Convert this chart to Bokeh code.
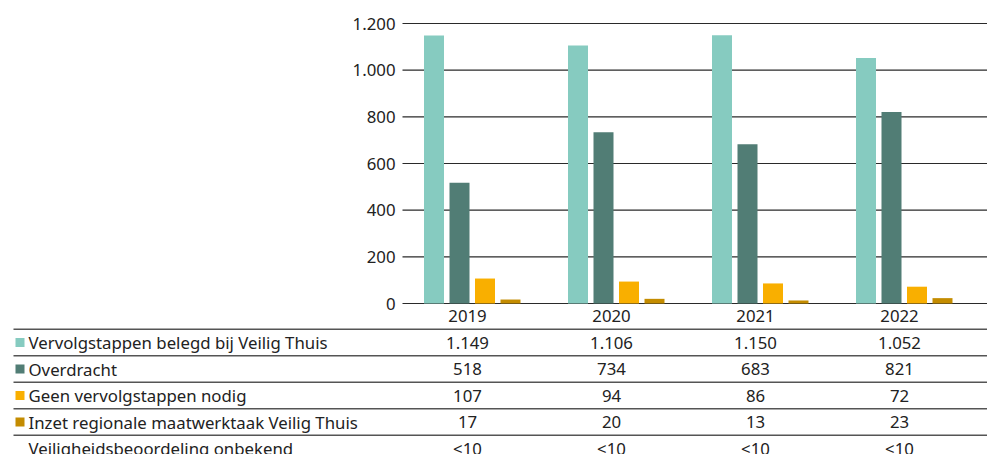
from bokeh.plotting import figure
from bokeh.models import Range1d, ColumnDataSource
from bokeh.embed import file_html
from bokeh.resources import INLINE
from bokeh.core.properties import value

# ---------------- data ----------------
years = ["2019", "2020", "2021", "2022"]
series_names = [
    "Vervolgstappen belegd bij Veilig Thuis",
    "Overdracht",
    "Geen vervolgstappen nodig",
    "Inzet regionale maatwerktaak Veilig Thuis",
]
vervolgstappen = [1149, 1106, 1150, 1052]
overdracht = [518, 734, 683, 821]
geen_vervolgstappen = [107, 94, 86, 72]
inzet_maatwerk = [17, 20, 13, 23]
onbekend_name = "Veiligheidsbeoordeling onbekend"
onbekend = ["<10", "<10", "<10", "<10"]
series_values = [vervolgstappen, overdracht, geen_vervolgstappen, inzet_maatwerk]
colors = ["#86CBC0", "#517D75", "#F9AF00", "#C48C00"]
y_ticks = [0, 200, 400, 600, 800, 1000, 1200]


def nl(v):
    return f"{v:,}".replace(",", ".")


FONT = "Noto Sans"
FS = "16.8px"
TXT = "#222222"

# ---------------- layout constants (pixels) ----------------
W, H = 987, 454
PX = 144.0             # pixels per year group
G0 = 467               # centre of first year group
GRID_LEFT = 402        # where grid lines start
TICK_RIGHT = 395       # right edge of tick labels
Y0_PX, Y1200_PX = 303, 23
VAL_PER_PX = 1200 / (Y0_PX - Y1200_PX)
ROW = 26.5             # table row pitch
ROW0_PX = 315.5        # header row centre
BAR_W = 20 / PX
BAR_STEP = 25.5 / PX
BAR_FIRST = -33.5 / PX

x_start = -G0 / PX
x_end = x_start + W / PX


def xp(px):
    return x_start + px / PX


y_top = Y0_PX * VAL_PER_PX
y_bot = y_top - H * VAL_PER_PX
t_top = -ROW0_PX / ROW
t_bot = t_top + H / ROW

p = figure(width=W, height=H, output_backend="svg", toolbar_location=None,
           x_range=Range1d(x_start, x_end), y_range=Range1d(y_bot, y_top),
           x_axis_location=None, y_axis_location=None,
           min_border_left=0, min_border_right=0, min_border_top=0, min_border_bottom=0)
p.extra_y_ranges = {"table": Range1d(t_bot, t_top)}
p.outline_line_color = None
p.grid.visible = False

# ---------------- value axis (grid + tick labels) ----------------
p.segment(x0=[xp(GRID_LEFT)] * len(y_ticks), x1=[x_end] * len(y_ticks),
          y0=y_ticks, y1=y_ticks, line_color="#2a2a2a", line_width=1.2)
p.text(x=[xp(TICK_RIGHT)] * len(y_ticks), y=y_ticks, text=[nl(t) for t in y_ticks],
       text_font=value(FONT), text_font_size=FS, text_color=TXT,
       text_align="right", text_baseline="middle")

# ---------------- bars ----------------
for j, (vals, col) in enumerate(zip(series_values, colors)):
    src = ColumnDataSource(dict(
        x=[i + BAR_FIRST + j * BAR_STEP for i in range(len(years))],
        top=vals,
    ))
    p.vbar(x="x", top="top", bottom=0, width=BAR_W, source=src,
           fill_color=col, line_color=None)

# ---------------- table ----------------
tbl = dict(y_range_name="table")
p.text(x=list(range(len(years))), y=[0] * len(years), text=years,
       text_font=value(FONT), text_font_size=FS, text_color=TXT,
       text_align="center", text_baseline="middle", **tbl)

row_names = series_names + [onbekend_name]
row_texts = [[nl(v) for v in vals] for vals in series_values] + [onbekend]

for r, (name, texts) in enumerate(zip(row_names, row_texts), start=1):
    p.text(x=list(range(len(years))), y=[r] * len(years), text=texts,
           text_font=value(FONT), text_font_size=FS, text_color=TXT,
           text_align="center", text_baseline="middle", **tbl)
    p.text(x=[xp(28)], y=[r], text=[name],
           text_font=value(FONT), text_font_size=FS, text_color=TXT,
           text_align="left", text_baseline="middle", **tbl)

p.rect(x=[xp(19.5)] * len(colors), y=list(range(1, len(colors) + 1)),
       width=9, height=9, width_units="screen", height_units="screen",
       fill_color=colors, line_color=None, **tbl)

n_lines = len(row_names)
p.segment(x0=[xp(13)] * n_lines, x1=[x_end] * n_lines,
          y0=[k + 0.5 for k in range(n_lines)], y1=[k + 0.5 for k in range(n_lines)],
          line_color="#555555", line_width=1.5, **tbl)

open("out.html", "w").write(file_html(p, INLINE))
